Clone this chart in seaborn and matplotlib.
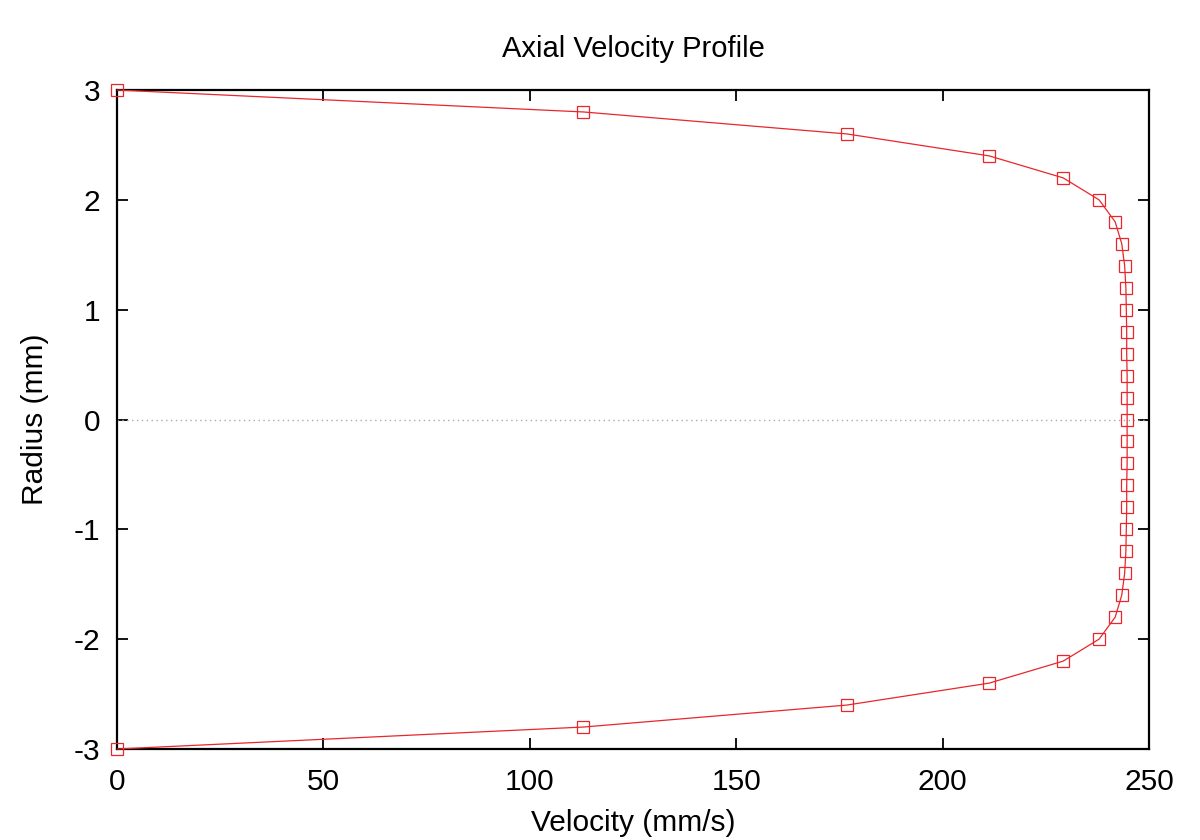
import matplotlib
matplotlib.use("Agg")
import matplotlib.pyplot as plt
import seaborn as sns
import pandas as pd

radius = [3.0, 2.8, 2.6, 2.4, 2.2, 2.0, 1.8, 1.6, 1.4, 1.2, 1.0, 0.8, 0.6, 0.4, 0.2, 0.0,
          -0.2, -0.4, -0.6, -0.8, -1.0, -1.2, -1.4, -1.6, -1.8, -2.0, -2.2, -2.4, -2.6, -2.8, -3.0]
velocity = [0.0, 113.0, 176.8, 211.3, 229.2, 237.9, 241.8, 243.4, 244.1, 244.4, 244.5, 244.6, 244.6, 244.7, 244.7, 244.7,
            244.7, 244.7, 244.6, 244.6, 244.5, 244.4, 244.1, 243.4, 241.8, 237.9, 229.2, 211.3, 176.8, 113.0, 0.0]
x_ticks = [0, 50, 100, 150, 200, 250]
y_ticks = [3, 2, 1, 0, -1, -2, -3]

sns.set_theme(style="white")
plt.rcParams['font.family'] = ['Liberation Sans', 'DejaVu Sans']
plt.rcParams['text.color'] = 'black'
plt.rcParams['axes.labelcolor'] = 'black'

df = pd.DataFrame({"Velocity": velocity, "Radius": radius})

fig = plt.figure(figsize=(12, 8.4), dpi=100)
ax = fig.add_axes([117/1200, 1 - 749/840, (1149-117)/1200, (749-90)/840])

ax.axhline(0, color="#aaaaaa", linestyle=(0, (1, 2.5)), linewidth=1.0, zorder=1)

red = "#e8262b"
sns.lineplot(data=df, x="Velocity", y="Radius", sort=False, estimator=None, ax=ax,
             color=red, linewidth=0.9, marker="s", markersize=8,
             markerfacecolor="none", markeredgecolor=red, markeredgewidth=0.9,
             clip_on=False, zorder=3)

ax.set_xlim(0, 250)
ax.set_ylim(-3, 3)
ax.set_xticks(x_ticks)
ax.set_xticklabels([str(v) for v in x_ticks])
ax.set_yticks(y_ticks)
ax.set_yticklabels([str(v) for v in y_ticks])

for s in ax.spines.values():
    s.set_visible(True)
    s.set_color("black")
    s.set_linewidth(1.6)

ax.tick_params(direction="in", length=8, width=1.3, colors="black",
               top=True, right=True, bottom=True, left=True,
               labelsize=21.5, pad=12)
ax.tick_params(axis="x", pad=14)

ax.set_xlabel("Velocity (mm/s)", fontsize=21.5, labelpad=9)
ax.set_ylabel("Radius (mm)", fontsize=21.5, labelpad=18)
ax.set_title("Axial Velocity Profile", fontsize=21, pad=24)

fig.savefig("out.png", dpi=100, facecolor="white")
